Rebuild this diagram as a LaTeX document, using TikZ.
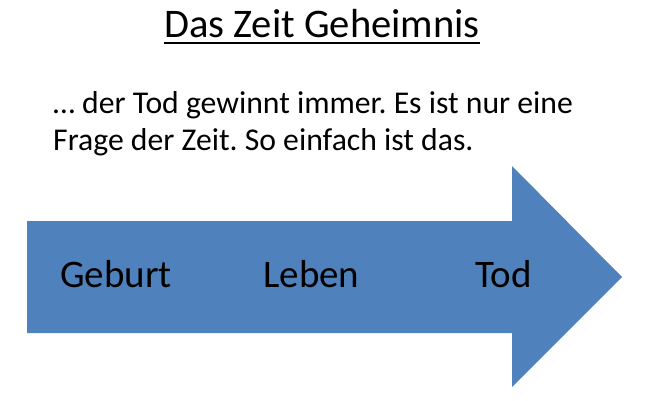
\documentclass[tikz,border=0pt]{standalone}
\usepackage{fontspec}
\setmainfont{Carlito}
\frenchspacing
\usetikzlibrary{positioning}
\tikzset{
  title/.style={anchor=base,inner sep=0pt,font=\fontsize{40.6}{48}\selectfont},
  line/.style={anchor=base west,inner sep=0pt,font=\fontsize{31.7}{37}\selectfont},
  stage/.style={anchor=base west,inner sep=0pt,font=\fontsize{39}{46}\selectfont}
}

\begin{document}
\begin{tikzpicture}[x=1pt,y=-1pt]
    % Color definitions
    \definecolor{arrowcol}{RGB}{79,129,189}

    % Page frame
    \useasboundingbox (0,0) rectangle (650,400);

    % Arrow outline
    \coordinate (SL) at (27,221);
    \coordinate (SR) at (512,221);
    \coordinate (HT) at (512,166);
    \coordinate (TIP) at (622,277);
    \coordinate (HB) at (512,387);
    \coordinate (BR) at (512,333);
    \coordinate (BL) at (27,333);
    \fill[arrowcol] (SL) -- (SR) -- (HT) -- (TIP) -- (HB) -- (BR) -- (BL) -- cycle;

    % Title (underlined)
    \node[title] (head) at (322,37) {Das Zeit Geheimnis};
    \draw[line width=2pt] ([yshift=-6pt]head.base west) -- ([yshift=-6pt]head.base east);

    % Text lines
    \node[line] (line1) at (53,113) {\dots\ der Tod gewinnt immer. Es ist nur eine};
    \node[line] (line2) at (53,150) {Frage der Zeit. So einfach ist das.};

    % Stages
    \node[stage] (birth) at (60,287) {Geburt};
    \node[stage] (life)  at (263,287) {Leben};
    \node[stage] (death) at (475,287) {Tod};
\end{tikzpicture}
\end{document}
